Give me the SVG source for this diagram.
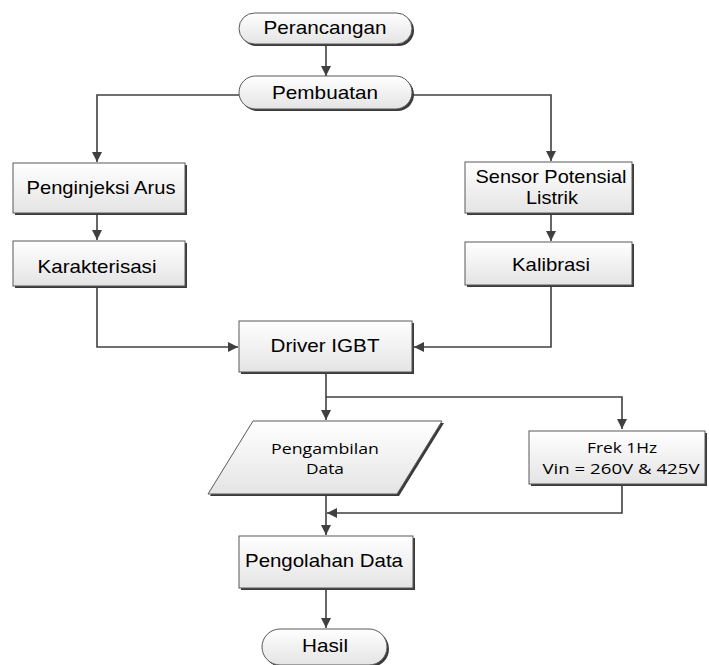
<svg xmlns="http://www.w3.org/2000/svg" width="709" height="665" viewBox="0 0 709 665">
<defs>
<linearGradient id="g" x1="0" y1="0" x2="0" y2="1">
<stop offset="0" stop-color="#ffffff"/>
<stop offset="1" stop-color="#e4e4e4"/>
</linearGradient>
<marker id="ar" viewBox="0 0 10 10" refX="10" refY="5" markerWidth="10" markerHeight="10" markerUnits="userSpaceOnUse" orient="auto">
<path d="M0,0 L10,5 L0,10 z" fill="#404040"/>
</marker>
</defs>
<style>
.n{fill:url(#g);stroke:#595959;stroke-width:1}
.sh{fill:#3a3a3a}
.t{font-family:"Liberation Sans",Arial,sans-serif;font-size:18.5px;fill:#000;text-anchor:middle}
.c{font-family:"Open Sans","Liberation Sans",sans-serif;font-size:15px;fill:#000;text-anchor:middle}
.e{fill:none;stroke:#404040;stroke-width:1.6;marker-end:url(#ar)}
.l{fill:none;stroke:#404040;stroke-width:1.6}
</style>
<g id="connectors">
<path class="e" d="M326,44 V76"/>
<path class="e" d="M239,95 H97 V162"/>
<path class="e" d="M413,95 H551 V161"/>
<path class="e" d="M97,214 V240"/>
<path class="e" d="M551,214 V241"/>
<path class="e" d="M97,287 V347 H238"/>
<path class="e" d="M551,286 V347 H414"/>
<path class="e" d="M326,373 V420"/>
<path class="e" d="M326,397 H622 V429"/>
<path class="e" d="M326,495 V535"/>
<path class="e" d="M622,485 V513 H327"/>
<path class="e" d="M326,589 V628"/>
</g>
<g id="perancangan">
<rect class="sh" x="241" y="15" width="173" height="31" rx="15.5"/>
<rect class="n" x="239" y="13" width="173" height="31" rx="15.5"/>
<text class="t" x="325" y="34" textLength="123" lengthAdjust="spacingAndGlyphs">Perancangan</text>
</g>
<g id="pembuatan">
<rect class="sh" x="241" y="78" width="173" height="33" rx="16.5"/>
<rect class="n" x="239" y="76" width="173" height="33" rx="16.5"/>
<text class="t" x="325" y="99" textLength="106" lengthAdjust="spacingAndGlyphs">Pembuatan</text>
</g>
<g id="penginjeksi">
<rect class="sh" x="15" y="165" width="172" height="50"/>
<rect class="n" x="13" y="163" width="172" height="50"/>
<text class="t" x="101" y="194" textLength="149" lengthAdjust="spacingAndGlyphs">Penginjeksi Arus</text>
</g>
<g id="karakterisasi">
<rect class="sh" x="15" y="243" width="172" height="45"/>
<rect class="n" x="13" y="241" width="172" height="45"/>
<text class="t" x="97" y="273" textLength="119" lengthAdjust="spacingAndGlyphs">Karakterisasi</text>
</g>
<g id="sensor">
<rect class="sh" x="467" y="164" width="167" height="51"/>
<rect class="n" x="465" y="162" width="167" height="51"/>
<text class="t" x="551" y="183" textLength="151" lengthAdjust="spacingAndGlyphs">Sensor Potensial</text>
<text class="t" x="552" y="204" textLength="52" lengthAdjust="spacingAndGlyphs">Listrik</text>
</g>
<g id="kalibrasi">
<rect class="sh" x="467" y="244" width="167" height="43"/>
<rect class="n" x="465" y="242" width="167" height="43"/>
<text class="t" x="551" y="271" textLength="78" lengthAdjust="spacingAndGlyphs">Kalibrasi</text>
</g>
<g id="driver">
<rect class="sh" x="241" y="323" width="173" height="51"/>
<rect class="n" x="239" y="321" width="173" height="51"/>
<text class="t" x="325" y="352" textLength="109" lengthAdjust="spacingAndGlyphs">Driver IGBT</text>
</g>
<g id="pengambilan">
<polygon class="sh" points="255,423 444,423 399,496 210,496"/>
<polygon class="n" points="253,421 442,421 397,494 208,494"/>
<text class="c" x="325" y="454" textLength="108" lengthAdjust="spacingAndGlyphs">Pengambilan</text>
<text class="c" x="325" y="474" textLength="38" lengthAdjust="spacingAndGlyphs">Data</text>
</g>
<g id="frek">
<rect class="sh" x="531" y="433" width="176" height="53"/>
<rect class="n" x="529" y="431" width="176" height="53"/>
<text class="c" x="622" y="453" textLength="70" lengthAdjust="spacingAndGlyphs">Frek 1Hz</text>
<text class="c" x="621" y="474" textLength="157" lengthAdjust="spacingAndGlyphs">Vin = 260V &amp; 425V</text>
</g>
<g id="pengolahan">
<rect class="sh" x="241" y="538" width="174" height="52"/>
<rect class="n" x="239" y="536" width="174" height="52"/>
<text class="t" x="324" y="567" textLength="158" lengthAdjust="spacingAndGlyphs">Pengolahan Data</text>
</g>
<g id="hasil">
<rect class="sh" x="264" y="631" width="125" height="36" rx="18"/>
<rect class="n" x="262" y="629" width="125" height="36" rx="18"/>
<text class="t" x="325" y="652" textLength="46" lengthAdjust="spacingAndGlyphs">Hasil</text>
</g>
</svg>
